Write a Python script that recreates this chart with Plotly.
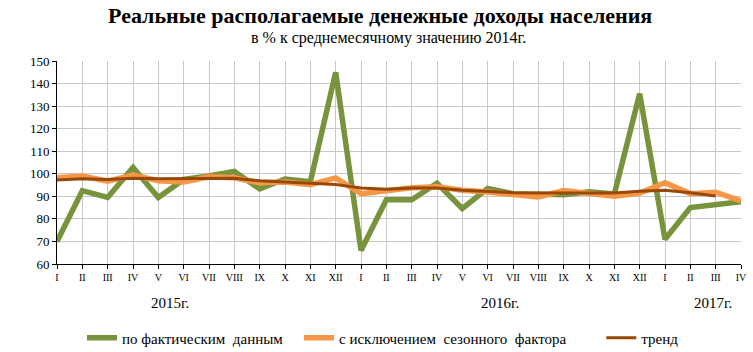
import plotly.graph_objects as go

months = ["I","II","III","IV","V","VI","VII","VIII","IX","X","XI","XII"]
tick_labels = months + months + ["I","II","III","IV"]
years = ["2015г.", "2016г.", "2017г."]
year_pos = [4.46, 17.5, 25.9]
series_names = ["по фактическим  данным", "с исключением  сезонного  фактора", "тренд"]

actual = [70, 92.5, 89.5, 102.8, 89.5, 97.5, 99, 101, 93.3, 97.7, 96.5, 145,
          66, 88.5, 88.5, 95.8, 84.6, 93.5, 91.2, 91, 90.7, 92, 91, 135.5,
          71, 85, 86.2, 87.6]
seasonal = [98.2, 99, 96.7, 99.4, 96.9, 96.4, 98.7, 98.2, 96, 96.4, 95.2, 98.2,
            91.2, 92.5, 93.8, 94.2, 92.7, 91.9, 90.9, 89.7, 92.6, 91.4, 90, 91.5,
            96, 91.2, 91.8, 88]
trend = [97.2, 97.8, 97.5, 98, 97.8, 97.8, 98, 98, 96.9, 96.4, 96, 95.2,
         93.7, 93.1, 93.7, 93.7, 92.7, 92.2, 91.6, 91.5, 91.5, 91.5, 91.5, 92.2,
         92.7, 91.6, 90.1]

x = list(range(len(tick_labels)))
FONT = "Liberation Serif, Times New Roman, serif"
NB = "\u00a0"

fig = go.Figure()
fig.add_trace(go.Scatter(x=x, y=actual, mode="lines", name=series_names[0] + NB * 3,
                         line=dict(color="#77933C", width=5.5)))
fig.add_trace(go.Scatter(x=x, y=seasonal, mode="lines", name=series_names[1] + NB * 8,
                         line=dict(color="#F79646", width=5.5)))
fig.add_trace(go.Scatter(x=x[:len(trend)], y=trend, mode="lines", name=series_names[2],
                         line=dict(color="#984807", width=3)))

plot_h = 352 - 61 - 88
def py(px_from_top):
    return (352 - 88 - px_from_top) / plot_h
def px(px_from_left):
    return (px_from_left - 57) / (753 - 57 - 12)

for yr, p in zip(years, year_pos):
    fig.add_annotation(x=p, y=py(303), xref="x", yref="paper", text=yr, showarrow=False,
                       font=dict(family=FONT, size=15, color="#000"), yanchor="middle")

fig.update_layout(
    width=753, height=352,
    margin=dict(l=57, r=12, t=61, b=88, autoexpand=False),
    paper_bgcolor="white", plot_bgcolor="white",
    font=dict(family=FONT, color="#000"),
    showlegend=True,
    legend=dict(orientation="h", x=px(383), xanchor="center", y=py(338), yanchor="middle",
                font=dict(family=FONT, size=15, color="#000"), bgcolor="rgba(0,0,0,0)"),
    xaxis=dict(range=[0, 27], tickmode="array", tickvals=x, ticktext=tick_labels,
               showgrid=True, gridcolor="#C8C8C8", gridwidth=1,
               showline=True, linecolor="#000", linewidth=1,
               ticks="outside", ticklen=4, tickcolor="#000",
               tickfont=dict(family=FONT, size=10, color="#000"), zeroline=False),
    yaxis=dict(range=[60, 150], dtick=10, tick0=60,
               showgrid=True, gridcolor="#C8C8C8", gridwidth=1,
               showline=True, linecolor="#000", linewidth=1,
               ticks="outside", ticklen=4, tickcolor="#000",
               tickfont=dict(family=FONT, size=13, color="#000"), zeroline=False),
)

fig.add_annotation(x=px(380), xref="paper", xanchor="center", y=py(15), yref="paper",
                   yanchor="middle", showarrow=False,
                   text="<b>Реальные располагаемые денежные доходы населения</b>",
                   font=dict(family=FONT, size=22, color="#000"))
fig.add_annotation(x=px(388), xref="paper", xanchor="center", y=py(38), yref="paper",
                   yanchor="middle", showarrow=False,
                   text="в % к среднемесячному значению 2014г.",
                   font=dict(family=FONT, size=16, color="#000"))

fig.write_html("out.html")
